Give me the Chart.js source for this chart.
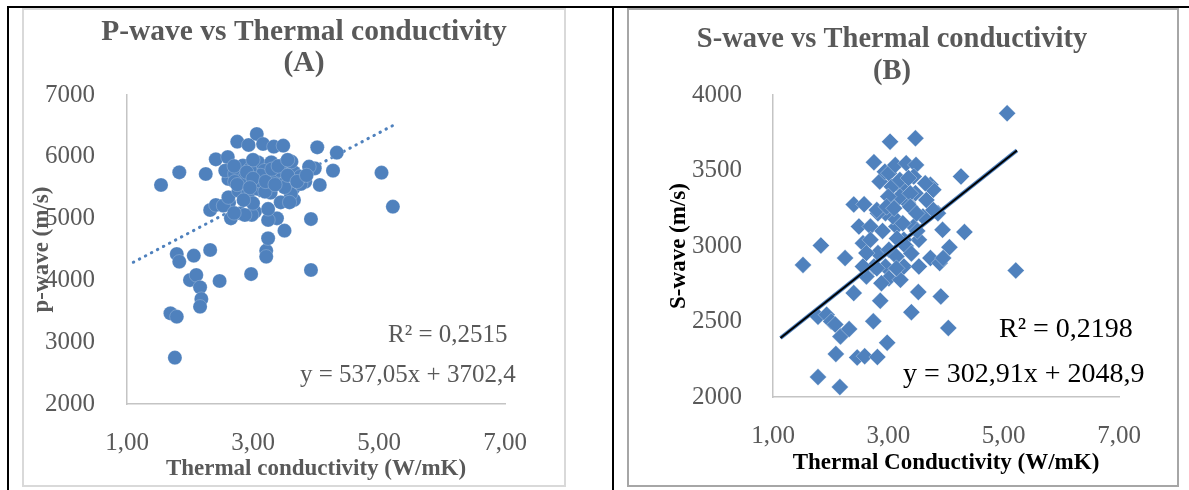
<!DOCTYPE html>
<html>
<head>
<meta charset="utf-8">
<title>P-wave / S-wave vs Thermal conductivity</title>
<script src="https://cdn.jsdelivr.net/npm/chart.js@4.4.1/dist/chart.umd.min.js"></script>
<style>
    html, body { margin: 0; padding: 0; background: #ffffff; }
    .page { position: relative; width: 1189px; height: 490px; overflow: hidden; }
    .rule { position: absolute; background: #000000; }
    .box { position: absolute; box-sizing: border-box; }
    canvas { position: absolute; }
</style>
</head>
<body>
<div class="page">
    <!-- table lines -->
    <div class="rule" style="left:7px; top:6px; width:1182px; height:2px;"></div>
    <div class="rule" style="left:7px; top:6px; width:2px; height:484px;"></div>
    <div class="rule" style="left:612px; top:6px; width:2px; height:484px;"></div>

    <!-- chart frames -->
    <div class="box" style="left:22px; top:8px; width:544px; height:479px; border:2px solid #d9d9d9;"></div>
    <div class="box" style="left:627px; top:8px; width:552px; height:479px; border:2px solid #a6a6a6;"></div>

    <canvas id="pwaveChart" width="542" height="477" style="left:23px; top:9px;"></canvas>
    <canvas id="swaveChart" width="550" height="477" style="left:628px; top:9px;"></canvas>
</div>

<script>
// ---- data ----

// (A) P-wave vs thermal conductivity
const pwaveTC = [
    1.54, 1.83, 2.25, 1.79, 1.83, 2.06, 2.32, 2.00, 2.10, 2.16, 2.18, 2.16, 2.47, 1.69, 1.79, 1.76,
    2.97, 3.21, 3.21, 3.24, 3.50, 3.92, 3.92, 5.04, 5.22, 4.33, 4.02, 4.27, 4.06, 3.98, 3.89, 3.83,
    3.65, 3.64, 3.38, 3.24, 3.44, 3.28, 3.10, 3.03, 2.80, 2.65, 2.32, 2.41, 2.62, 2.75, 2.93, 3.06,
    3.16, 3.33, 3.48, 2.41, 2.60, 2.84, 3.08, 3.29, 3.50, 3.65, 3.76, 3.60, 3.58, 3.24, 2.98, 2.53,
    2.61, 2.77, 2.92, 3.08, 3.08, 2.61, 2.56, 2.71, 2.87, 3.44, 3.50, 3.18, 3.34, 3.61, 3.12, 2.71,
    2.87, 2.70, 3.19, 3.43, 2.95, 3.75, 3.00, 2.70, 2.90, 3.00, 3.20, 3.30, 3.40, 3.55, 3.70, 3.85,
    2.75, 2.95, 3.35, 3.55, 3.00, 2.85
];
const pwaveVel = [
    5544, 5749, 5722, 4427, 4303, 4400, 4492, 4006, 4087, 3888, 3699, 3575, 3990, 3467, 3413, 2750,
    4103, 4481, 4384, 4681, 4805, 4168, 4993, 5743, 5193, 6067, 6153, 5776, 5544, 5813, 5840, 5598,
    5301, 5490, 5004, 4977, 5263, 5420, 5517, 5112, 5085, 5004, 5139, 5220, 5258, 6245, 6191, 6369,
    6207, 6164, 6180, 5959, 5995, 5857, 5910, 5910, 5884, 5749, 5560, 5398, 5263, 5156, 5060, 5210,
    5345, 5452, 5398, 5479, 5614, 5641, 5776, 5722, 5668, 5614, 5506, 5776, 5722, 5921, 5700, 5598,
    5058, 5090, 5436, 5780, 5800, 5680, 5950, 5850, 5750, 5650, 5600, 5800, 5850, 5700, 5600, 5700,
    5550, 5500, 5550, 5950, 5250, 5300
];
const pwaveTrendX = [1.10, 5.22];
const pwaveTrendY = [4293, 6506];
const pwaveTicks = [2000, 3000, 4000, 5000, 6000, 7000];

// (B) S-wave vs thermal conductivity
const swaveTC = [
    5.06, 3.03, 3.47, 2.75, 4.26, 3.73, 3.78, 1.52, 1.83, 2.25, 4.32, 4.06, 5.21, 3.91, 4.04, 3.52,
    3.40, 2.86, 2.40, 2.74, 2.98, 1.78, 1.93, 2.01, 2.08, 2.17, 2.32, 2.09, 2.46, 2.59, 2.81, 1.78,
    2.16, 2.40, 2.58, 2.49, 2.69, 2.85, 2.94, 2.56, 2.82, 2.62, 2.95, 3.01, 3.21, 3.27, 3.53, 3.73,
    3.89, 3.95, 3.86, 3.94, 3.66, 3.60, 3.44, 3.53, 3.27, 3.14, 3.08, 2.95, 2.82, 3.14, 3.21, 3.01,
    3.12, 3.31, 3.48, 3.44, 3.47, 3.34, 3.01, 3.14, 2.69, 2.75, 2.62, 2.88, 2.56, 3.06, 3.20, 3.64,
    3.20, 3.38, 3.00, 2.80, 2.97, 3.38, 3.78, 3.49, 2.80, 3.14, 3.10, 3.25, 3.30, 3.40, 3.15, 2.90,
    3.50, 3.35
];
const swaveVel = [
    3879, 3691, 3713, 3555, 3460, 3405, 3372, 2875, 3004, 2920, 3092, 2992, 2838, 2666, 2457, 2695,
    2562, 2637, 2688, 2501, 2360, 2532, 2545, 2500, 2480, 2401, 2450, 2285, 2262, 2270, 2265, 2132,
    2066, 3275, 3276, 3129, 3129, 3427, 3492, 3019, 2953, 2953, 2864, 2787, 2776, 2864, 2864, 2920,
    2887, 2920, 3217, 3107, 3305, 3195, 3129, 3041, 3041, 3129, 3195, 3217, 3217, 3305, 3394, 3482,
    3536, 3548, 3537, 3460, 3350, 3283, 2975, 2931, 3041, 2864, 2798, 2754, 2864, 3393, 3437, 3415,
    3327, 3349, 3327, 3238, 3260, 3260, 3238, 3216, 2852, 2852, 3250, 3150, 3000, 2950, 3050, 3100,
    3100, 3450
];
const swaveTrendX = [1.13, 5.23];
const swaveTrendY = [2391, 3633];
const swaveTicks = [2000, 2500, 3000, 3500, 4000];

const tcTicks = [1, 3, 5, 7];
const tcTickLabels = ['1,00', '3,00', '5,00', '7,00'];

// ---- shared styling ----
Chart.defaults.font.family = "'Liberation Serif', 'Times New Roman', serif";
Chart.defaults.color = '#595959';

const pointBlue = '#4F81BD';
const axisGrey = '#c4c4c4';

function toPoints(xs, ys) {
    return xs.map((x, i) => ({ x: x, y: ys[i] }));
}

// draws the chart title and the trendline equation as canvas text
function textLayer(items) {
    return {
        id: 'textLayer',
        afterDraw(chart) {
            const ctx = chart.ctx;
            ctx.save();
            ctx.textBaseline = 'middle';
            items.forEach(t => {
                ctx.font = t.font;
                ctx.fillStyle = t.color;
                ctx.textAlign = t.align;
                ctx.fillText(t.text, t.x, t.y);
            });
            ctx.restore();
        }
    };
}

// ---- (A) P-wave chart ----
const pwaveCtx = document.getElementById('pwaveChart').getContext('2d');

new Chart(pwaveCtx, {
    type: 'scatter',
    data: {
        datasets: [
            {
                label: 'P-wave',
                data: toPoints(pwaveTC, pwaveVel),
                pointStyle: 'circle',
                pointRadius: 7.1,
                backgroundColor: pointBlue,
                borderColor: 'rgba(255, 255, 255, 0.35)',
                borderWidth: 0.6,
                order: 0
            },
            {
                label: 'Linear trend',
                data: toPoints(pwaveTrendX, pwaveTrendY),
                showLine: true,
                borderColor: pointBlue,
                borderWidth: 3,
                borderDash: [0.5, 6.3],
                borderCapStyle: 'round',
                pointRadius: 0,
                order: 1
            }
        ]
    },
    options: {
        responsive: false,
        animation: false,
        devicePixelRatio: 1,
        layout: { padding: { left: 0, right: 60, top: 86, bottom: 0 } },
        plugins: {
            legend: { display: false },
            tooltip: { enabled: false }
        },
        scales: {
            x: {
                type: 'linear',
                min: 1,
                max: 7,
                afterBuildTicks: scale => { scale.ticks = tcTicks.map(v => ({ value: v })); },
                afterFit: scale => { scale.height = 82; },
                grid: { display: false },
                border: { color: axisGrey, width: 1.5 },
                ticks: {
                    font: { size: 25 },
                    padding: 16,
                    callback: (value, index) => tcTickLabels[index]
                },
                title: {
                    display: true,
                    text: 'Thermal conductivity (W/mK)',
                    color: '#595959',
                    font: { size: 23, weight: 'bold' },
                    padding: { top: 0, bottom: 3 }
                }
            },
            y: {
                min: 2000,
                max: 7000,
                afterBuildTicks: scale => { scale.ticks = pwaveTicks.map(v => ({ value: v })); },
                afterFit: scale => { scale.width = 104; },
                grid: { display: false },
                border: { color: axisGrey, width: 1.5 },
                ticks: {
                    font: { size: 25 },
                    padding: 24,
                    callback: value => String(value)
                },
                title: {
                    display: true,
                    text: 'p-wave (m/s)',
                    color: '#595959',
                    font: { size: 23, weight: 'bold' },
                    padding: { top: 5, bottom: 0 }
                }
            }
        }
    },
    plugins: [textLayer([
        { text: 'P-wave vs Thermal conductivity', x: 281, y: 23, align: 'center', color: '#595959', font: "bold 29.5px 'Liberation Serif'" },
        { text: '(A)', x: 281, y: 54, align: 'center', color: '#595959', font: "bold 29.5px 'Liberation Serif'" },
        { text: 'R² = 0,2515', x: 365, y: 326, align: 'left', color: '#595959', font: "25px 'Liberation Serif'" },
        { text: 'y = 537,05x + 3702,4', x: 277, y: 366, align: 'left', color: '#595959', font: "25px 'Liberation Serif'" }
    ])]
});

// ---- (B) S-wave chart ----
const swaveCtx = document.getElementById('swaveChart').getContext('2d');

new Chart(swaveCtx, {
    type: 'scatter',
    data: {
        datasets: [
            {
                label: 'Linear trend (blue)',
                data: toPoints(swaveTrendX, swaveTrendY),
                showLine: true,
                borderColor: pointBlue,
                borderWidth: 4,
                pointRadius: 0,
                order: 1
            },
            {
                label: 'Linear trend',
                data: toPoints(swaveTrendX, swaveTrendY),
                showLine: true,
                borderColor: '#000000',
                borderWidth: 2,
                pointRadius: 0,
                order: 0
            },
            {
                label: 'S-wave',
                data: toPoints(swaveTC, swaveVel),
                pointStyle: 'rectRot',
                pointRadius: 8.5,
                backgroundColor: pointBlue,
                borderColor: 'rgba(255, 255, 255, 0.5)',
                borderWidth: 0.6,
                order: 2
            }
        ]
    },
    options: {
        responsive: false,
        animation: false,
        devicePixelRatio: 1,
        layout: { padding: { left: 0, right: 59, top: 86, bottom: 0 } },
        plugins: {
            legend: { display: false },
            tooltip: { enabled: false }
        },
        scales: {
            x: {
                type: 'linear',
                min: 1,
                max: 7,
                afterBuildTicks: scale => { scale.ticks = tcTicks.map(v => ({ value: v })); },
                afterFit: scale => { scale.height = 89; },
                grid: { display: false },
                border: { color: axisGrey, width: 1.5 },
                ticks: {
                    font: { size: 25 },
                    padding: 16,
                    callback: (value, index) => tcTickLabels[index]
                },
                title: {
                    display: true,
                    text: 'Thermal Conductivity (W/mK)',
                    color: '#000000',
                    font: { size: 23, weight: 'bold' },
                    padding: { top: 0, bottom: 9 }
                }
            },
            y: {
                min: 2000,
                max: 4000,
                afterBuildTicks: scale => { scale.ticks = swaveTicks.map(v => ({ value: v })); },
                afterFit: scale => { scale.width = 145; },
                grid: { display: false },
                border: { color: axisGrey, width: 1.5 },
                ticks: {
                    font: { size: 25 },
                    padding: 23,
                    callback: value => String(value)
                },
                title: {
                    display: true,
                    text: 'S-wave (m/s)',
                    color: '#000000',
                    font: { size: 23, weight: 'bold' },
                    padding: { top: 37, bottom: 0 }
                }
            }
        }
    },
    plugins: [textLayer([
        { text: 'S-wave vs Thermal conductivity', x: 264, y: 31, align: 'center', color: '#595959', font: "bold 28.5px 'Liberation Serif'" },
        { text: '(B)', x: 264, y: 63, align: 'center', color: '#595959', font: "bold 28.5px 'Liberation Serif'" },
        { text: 'R² = 0,2198', x: 371, y: 321, align: 'left', color: '#000000', font: "28px 'Liberation Serif'" },
        { text: 'y = 302,91x + 2048,9', x: 275, y: 366, align: 'left', color: '#000000', font: "28px 'Liberation Serif'" }
    ])]
});
</script>
</body>
</html>
